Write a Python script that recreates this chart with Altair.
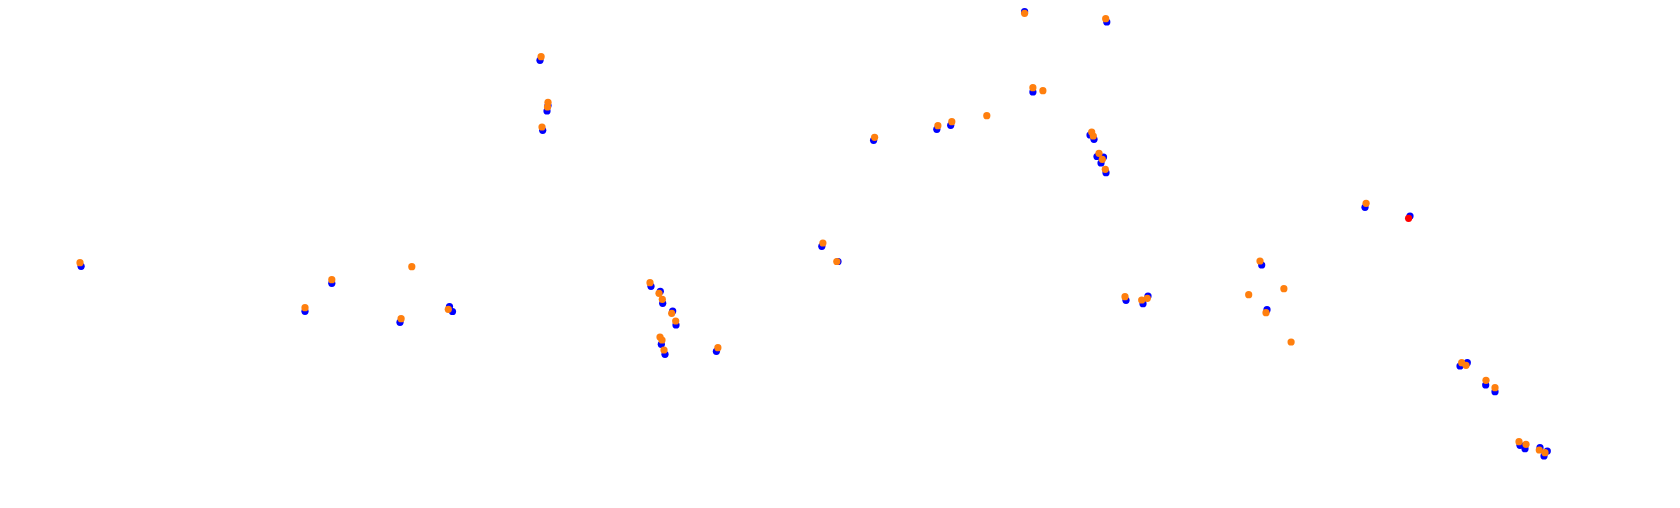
import altair as alt
import pandas as pd

# Track-position samples (x, y)
blue_x = [540, 548, 547, 542.7, 81.1, 331.8, 305, 400, 449.5, 452.5,
          1024.6, 1106.8, 1032.9, 936.8, 950.7, 873.6, 1090, 1094, 1097, 1101,
          1103.5, 1106, 821.8, 838, 651, 660.3, 662.7, 672.7, 676, 661.3,
          665, 716.4, 1365, 1410, 1261.7, 1126, 1143, 1148, 1267, 1460,
          1467.3, 1485.7, 1495, 1520, 1525, 1540, 1544, 1547.3]
blue_y = [54.3, 99.5, 105, 124.3, 260.3, 277.3, 305.3, 316.3, 300.5, 305.5,
          5.7, 16, 86, 123.3, 119.3, 134.3, 129, 133.3, 150.5, 157,
          151, 166.7, 240.3, 255.5, 280.3, 285.3, 297.3, 305, 319, 338.3,
          348.3, 345.3, 201.3, 210, 259, 294.3, 297.7, 290, 303.7, 360,
          356.7, 379, 385.7, 439.3, 442.7, 441.7, 450, 445]

orange_x = [541.1, 548, 547.5, 542, 80, 331.8, 411.8, 305, 401.1, 448.3,
            1024.6, 1105.7, 1032.9, 1042.9, 986.8, 937.9, 951.8, 874.6, 1091.7, 1093.3,
            1099, 1102.3, 1105.3, 822.9, 836.8, 650, 659, 662.3, 671.7, 675.7,
            660, 662, 664, 717.9, 1366.1, 1260, 1125, 1141.7, 1147.3, 1248.7,
            1283.9, 1266, 1291.1, 1461.7, 1466, 1486, 1495, 1519, 1526, 1539.3,
            1545]
orange_y = [50.7, 96.3, 101, 121, 256.7, 273.7, 260.7, 301.7, 312.7, 303.3,
            7.3, 12.7, 81.7, 84.7, 109.7, 119.7, 115.7, 131.3, 126, 130,
            147.3, 153.3, 163.3, 237, 255.5, 276.7, 287.3, 293.3, 307.3, 315,
            331, 334, 344, 341.7, 197.3, 255, 290.7, 294, 292.3, 288.7,
            282.7, 306.7, 336, 356.7, 359.3, 374.3, 381.7, 435.7, 438.3, 444,
            446.7]

red_x = [1408.6]
red_y = [212.3]

series_names = ["blue", "orange", "red"]
series_colors = ["#0000ff", "#ff7f0e", "#ff0000"]

df_blue = pd.DataFrame({"x": blue_x, "y": blue_y, "series": "blue"})
df_orange = pd.DataFrame({"x": orange_x, "y": orange_y, "series": "orange"})
df_red = pd.DataFrame({"x": red_x, "y": red_y, "series": "red"})

xs = alt.Scale(domain=[8, 1672], nice=False, zero=False)
ys = alt.Scale(domain=[8, 500], nice=False, zero=False, reverse=True)
cs = alt.Scale(domain=series_names, range=series_colors)


def layer(df):
    return alt.Chart(df).mark_circle(size=52, opacity=1).encode(
        x=alt.X("x:Q", scale=xs, axis=None),
        y=alt.Y("y:Q", scale=ys, axis=None),
        color=alt.Color("series:N", scale=cs, legend=None),
    )


chart = alt.layer(layer(df_blue), layer(df_orange), layer(df_red)).properties(
    width=1664, height=492, padding=0, background="white"
).configure_view(strokeWidth=0)

chart.save("out.html", embed_options={"renderer": "svg", "actions": False})
